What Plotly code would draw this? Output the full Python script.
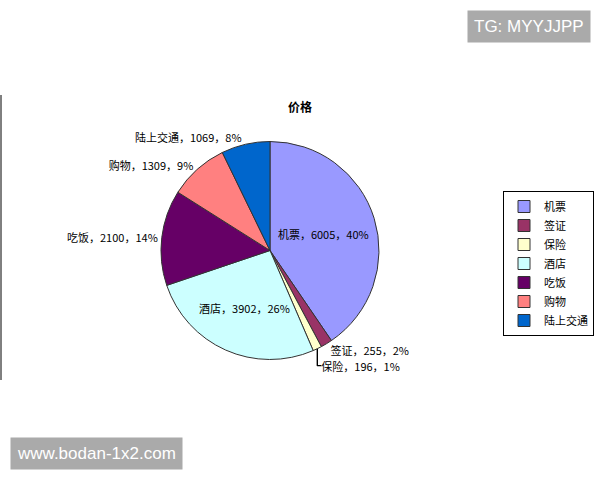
import plotly.graph_objects as go

categories = ["机票", "签证", "保险", "酒店", "吃饭", "购物", "陆上交通"]
values = [6005, 255, 196, 3902, 2100, 1309, 1069]
percent_labels = ["40%", "2%", "1%", "26%", "14%", "9%", "8%"]
colors = ["#9999FF", "#993366", "#FFFFCC", "#CCFFFF", "#660066", "#FF8080", "#0066CC"]
text_positions = ["inside", "outside", "outside", "inside", "outside", "outside", "outside"]

W, H = 600, 480


def px(x):
    return x / W


def py(y):
    return 1 - y / H


fig = go.Figure()
fig.add_trace(go.Pie(
    labels=categories,
    values=values,
    customdata=percent_labels,
    texttemplate="%{label}，%{value}，%{customdata}",
    textposition=text_positions,
    insidetextorientation="horizontal",
    sort=False,
    direction="clockwise",
    rotation=0,
    marker=dict(colors=colors, line=dict(color="#333333", width=1)),
    textfont=dict(family="Noto Sans CJK SC", size=11, color="#000000"),
    domain=dict(x=[px(161), px(379)], y=[py(360), py(141)]),
    hoverinfo="label+value+percent",
))

fig.update_layout(
    width=W, height=H,
    margin=dict(l=0, r=0, t=0, b=0),
    paper_bgcolor="white",
    plot_bgcolor="white",
    title=dict(text="<b>价格</b>", x=0.5, xanchor="center", y=py(108), yanchor="middle",
               font=dict(family="Noto Sans CJK SC", size=12, color="#000000")),
    legend=dict(x=px(594), y=py(191), xanchor="right", yanchor="top",
                bordercolor="#000000", borderwidth=1, bgcolor="white",
                font=dict(family="Noto Sans CJK SC", size=11, color="#000000"),
                itemwidth=30, tracegroupgap=0),
    showlegend=True,
    annotations=[
        dict(text="TG: MYYJJPP", x=px(591), y=py(10), xref="paper", yref="paper",
             xanchor="right", yanchor="top", showarrow=False,
             bgcolor="#AAAAAA", font=dict(family="Liberation Sans", size=17, color="white"),
             borderpad=6),
        dict(text="www.bodan-1x2.com", x=px(10), y=py(470), xref="paper", yref="paper",
             xanchor="left", yanchor="bottom", showarrow=False,
             bgcolor="#AAAAAA", font=dict(family="Liberation Sans", size=17, color="white"),
             borderpad=6),
    ],
    shapes=[
        dict(type="line", xref="paper", yref="paper", x0=px(1), x1=px(1),
             y0=py(380), y1=py(95), line=dict(color="#000000", width=1)),
    ],
)

fig.write_html("out.html", config={"displayModeBar": False},
               post_script="document.body.style.margin='0';document.body.style.overflow='hidden';")
